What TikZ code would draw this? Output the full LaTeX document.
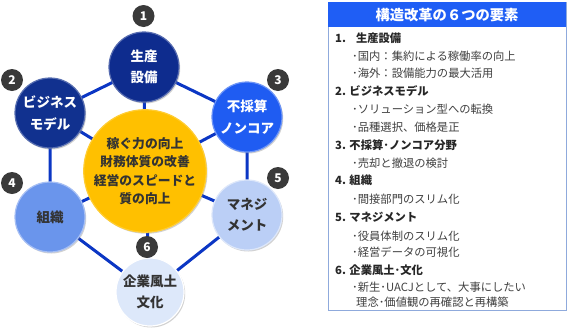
\documentclass[tikz,border=0pt]{standalone}
\usepackage{fontspec}
\setmainfont{Noto Sans CJK JP}
\usetikzlibrary{shadows}
\definecolor{linec}{HTML}{0B36C4}
\definecolor{cA}{HTML}{0E2C8E}
\definecolor{cB}{HTML}{11318F}
\definecolor{cC}{HTML}{1F5CF2}
\definecolor{cD}{HTML}{6A95EC}
\definecolor{cE}{HTML}{BBCFF6}
\definecolor{cF}{HTML}{DDE8FA}
\definecolor{cY}{HTML}{FFC000}
\definecolor{badgec}{HTML}{3A3A3A}
\definecolor{titlec}{HTML}{1F5EF5}
\definecolor{framec}{HTML}{8FAADC}
\definecolor{txtd}{HTML}{333333}
\definecolor{txtb}{HTML}{404040}
\tikzset{
  ball/.style={circle, minimum size=70pt, inner sep=0pt, align=center,
    font=\bfseries\fontsize{13.5}{21.5}\selectfont,
    drop shadow={opacity=0.35, shadow xshift=1.2pt, shadow yshift=-1.5pt}},
  badge/.style={circle, fill=badgec, text=white, minimum size=22pt, inner sep=0pt,
    font=\bfseries\fontsize{12}{12}\selectfont},
  hexline/.style={draw=linec, line width=3pt},
  head/.style={anchor=base west, inner sep=0pt, text=black!85, font=\bfseries\fontsize{11.3}{11.3}\selectfont},
  item/.style={anchor=base west, inner sep=0pt, text=txtb, font=\fontsize{11.3}{11.3}\selectfont}
}
\begin{document}
\begin{tikzpicture}[x=1pt,y=-1pt]
\useasboundingbox (0,0) rectangle (567,327);
\fill[white] (0,0) rectangle (567,327);
% node positions
\coordinate (p1) at (144,67);
\coordinate (p2) at (50,113);
\coordinate (p3) at (247,117);
\coordinate (p4) at (50,217);
\coordinate (p5) at (247,215);
\coordinate (p6) at (150,292);
\coordinate (pc) at (145,171);
% connectors
\draw[hexline] (p1) -- (p2) -- (p4) -- (p6) -- (p5) -- (p3) -- (p1);
\foreach \i in {1,...,6} \draw[hexline] (pc) -- (p\i);
% circles
\node[ball, fill=cA, draw=cA!70!white, line width=1.2pt, text=white] (n1) at (p1) {生産\\設備};
\node[ball, fill=cB, draw=cB!70!white, line width=1.2pt, text=white] (n2) at (p2) {ビジネス\\モデル};
\node[ball, fill=cC, draw=cC!65!white, line width=1.2pt, text=white] (n3) at (p3) {不採算\\ノンコア};
\node[ball, fill=cD, draw=cD!60!white, line width=1.2pt, text=txtd] (n4) at (p4) {組織};
\node[ball, fill=cE, draw=cE!50!white, line width=1.2pt, text=txtd] (n5) at (p5) {マネジ\\メント};
\node[ball, fill=cF, draw=white, line width=1.2pt, text=txtd, minimum size=68pt] (n6) at (p6) {企業風土\\文化};
\node[ball, fill=cY, draw=cY!80!white, line width=1.2pt, text=txtd, minimum size=114pt,
  font=\bfseries\fontsize{12.8}{18.5}\selectfont] (nc) at (pc) {稼ぐ力の向上\\財務体質の改善\\経営のスピードと\\質の向上};
% badges
\node[badge] (b1) at (143.5,16) {1};
\node[badge] (b2) at (12,80) {2};
\node[badge] (b3) at (278,80) {3};
\node[badge] (b4) at (12,183) {4};
\node[badge] (b5) at (278,178) {5};
\node[badge] (b6) at (147,247) {6};
% right panel
\draw[framec, line width=1pt] (328,2) rectangle (566,310);
\fill[titlec] (328,2) rectangle (566,27);
\node[text=white, font=\bfseries\fontsize{14.3}{14.3}\selectfont, inner sep=0pt] (title) at (447,15) {構造改革の６つの要素};
\node[head] (h1) at (335,42) {1.\hspace{10pt}生産設備};
\node[item] (i11) at (352,60) {･国内：集約による稼働率の向上};
\node[item] (i12) at (352,77.5) {･海外：設備能力の最大活用};
\node[head] (h2) at (335,95.5) {2. ビジネスモデル};
\node[item] (i21) at (352,113.5) {･ソリューション型への転換};
\node[item] (i22) at (352,131) {･品種選択、価格是正};
\node[head] (h3) at (335,149) {3. 不採算･ノンコア分野};
\node[item] (i31) at (352,167) {･売却と撤退の検討};
\node[head] (h4) at (335,184.5) {4. 組織};
\node[item] (i41) at (352,203) {･間接部門のスリム化};
\node[head] (h5) at (335,221) {5. マネジメント};
\node[item] (i51) at (352,240) {･役員体制のスリム化};
\node[item] (i52) at (352,256.5) {･経営データの可視化};
\node[head] (h6) at (335,274.5) {6. 企業風土･文化};
\node[item] (i61) at (352,291.5) {･新生･UACJとして、大事にしたい};
\node[item] (i62) at (356,306.5) {理念･価値観の再確認と再構築};
\end{tikzpicture}
\end{document}
